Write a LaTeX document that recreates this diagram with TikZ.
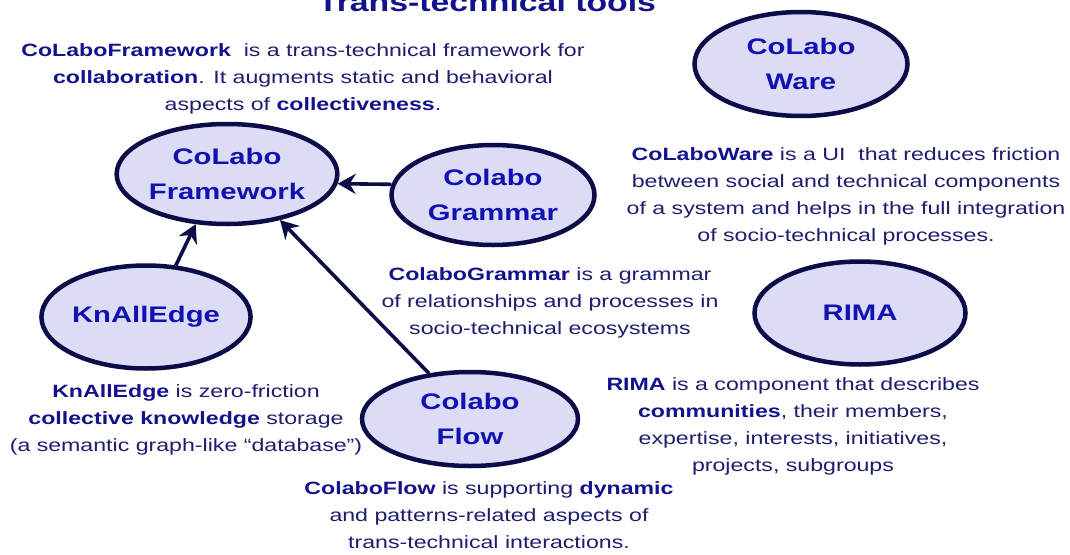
\documentclass[tikz,border=0pt]{standalone}
\usepackage{fontspec}
\setmainfont[FakeStretch=1.3]{Liberation Sans}
\usetikzlibrary{shapes.geometric,arrows.meta}
\definecolor{txt}{HTML}{1E1E6E}
\definecolor{boldtxt}{HTML}{12128C}
\definecolor{ntext}{HTML}{1212B0}
\definecolor{efill}{HTML}{DCDCF7}
\definecolor{border}{HTML}{0C0C48}
\newcommand\cblock[1]{\vtop{\baselineskip=27pt\lineskiplimit=-20pt\halign{\hfil##\hfil\cr#1\crcr}}}
\newcommand\bb[1]{{\bfseries\color{boldtxt}#1}}
\tikzset{
  tool/.style={ellipse, draw=border, fill=efill, line width=4.5pt, inner sep=0pt,
    font=\bfseries\fontsize{22.5}{35}\selectfont, text=ntext, align=center},
  desc/.style={anchor=base, inner sep=0pt, font=\fontsize{17.8}{27}\selectfont, text=txt},
  arr/.style={draw=border, line width=3.6pt, -{Stealth[length=18pt,width=20pt,inset=6pt]}},
  ttl/.style={anchor=base, inner sep=0pt, font=\bfseries\fontsize{26}{30}\selectfont, text=boldtxt}
}
\begin{document}
\begin{tikzpicture}[x=1pt,y=-1pt]
\useasboundingbox (0,0) rectangle (1070,554);
\fill[white] (0,0) rectangle (1070,554);

\node[ttl] (title) at (487,12) {Trans-technical tools};

\node[tool, minimum width=206pt, minimum height=100pt] (fw) at (227,174) {CoLabo\\Framework};
\node[tool, minimum width=203pt, minimum height=100pt] (gram) at (493,195) {Colabo\\Grammar};
\node[tool, minimum width=208pt, minimum height=103pt] (kn) at (146,317) {KnAllEdge};
\node[tool, minimum width=216pt, minimum height=94pt] (flow) at (470,419) {Colabo\\Flow};
\node[tool, minimum width=213pt, minimum height=104pt] (ware) at (801,64) {CoLabo\\Ware};
\node[tool, minimum width=211pt, minimum height=103pt] (rima) at (860,313) {RIMA};

\draw[arr] (gram.174) -- (fw.355);
\draw[arr] (kn.60) -- (fw.238);
\draw[arr] (flow.132) -- (fw.319);

\node[desc] (fwd) at (303,56) {\cblock{\bb{CoLaboFramework}\ \ is a trans-technical framework for\cr
\bb{collaboration}. It augments static and behavioral\cr
aspects of \bb{collectiveness}.}};

\node[desc] (wared) at (846,160) {\cblock{\bb{CoLaboWare} is a UI\ \ that reduces friction\cr
between social and technical components\cr
of a system and helps in the full integration\cr
of socio-technical processes.}};

\node[desc] (gramd) at (550,280) {\cblock{\bb{ColaboGrammar} is a grammar\cr
of relationships and processes in\cr
socio-technical ecosystems}};

\node[desc] (knd) at (186,397) {\cblock{\bb{KnAllEdge} is zero-friction\cr
\bb{collective knowledge} storage\cr
(a semantic graph-like “database”)}};

\node[desc] (flowd) at (489,494) {\cblock{\bb{ColaboFlow} is supporting \bb{dynamic}\cr
and patterns-related aspects of\cr
trans-technical interactions.}};

\node[desc] (rimad) at (793,390) {\cblock{\bb{RIMA} is a component that describes\cr
\bb{communities}, their members,\cr
expertise, interests, initiatives,\cr
projects, subgroups}};
\end{tikzpicture}
\end{document}
